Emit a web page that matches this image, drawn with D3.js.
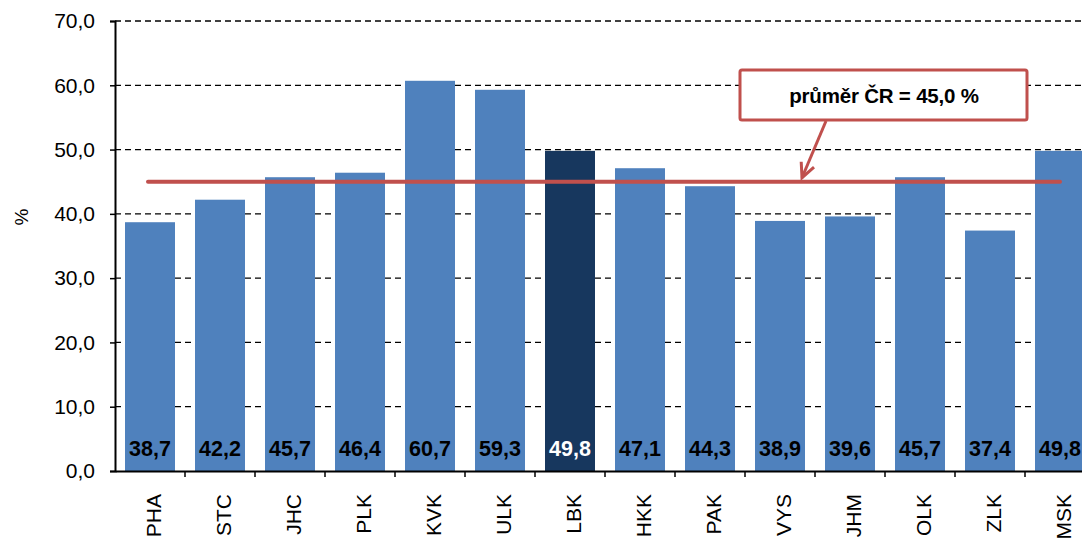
<!DOCTYPE html>
<html><head><meta charset="utf-8">
<script src="https://cdn.jsdelivr.net/npm/d3@7"></script>
<style>body{margin:0;background:#fff}svg{display:block}text{font-family:"Liberation Sans",Arial,sans-serif}</style>
</head><body><svg id="c" width="1082" height="538"></svg>
<script>
const categories = ["PHA","STC","JHC","PLK","KVK","ULK","LBK","HKK","PAK","VYS","JHM","OLK","ZLK","MSK"];
const values = [38.7,42.2,45.7,46.4,60.7,59.3,49.8,47.1,44.3,38.9,39.6,45.7,37.4,49.8];
const highlight = ["LBK"];
const average = 45.0;
const avgLabel = "průměr ČR = 45,0 %";
const yTicks = [0,10,20,30,40,50,60,70];
const yTitle = "%";

(function(){
const svg = d3.select("#c");
const pLeft = 115, pTop = 21, pBottom = 471, step = 70;
const x = d3.scaleBand().domain(categories).range([pLeft, pLeft + step*categories.length]).paddingInner(20/70).paddingOuter(10/70);
const xb = d3.scaleBand().domain(categories).range([pLeft, pLeft + step*categories.length]);
const y = d3.scaleLinear().domain([0,70]).range([pBottom, pTop]);
const fmt = v => d3.format(".1f")(v).replace(".", ",");

// grid
svg.append("g").selectAll("line").data(yTicks.filter(d=>d>0)).join("line")
  .attr("x1", pLeft).attr("x2", 1082).attr("y1", d=>y(d)).attr("y2", d=>y(d))
  .attr("stroke","#000").attr("stroke-width",1.3).attr("stroke-dasharray","6,4");

// bars
svg.append("g").selectAll("rect").data(categories).join("rect")
  .attr("x", d=>x(d)).attr("width", x.bandwidth())
  .attr("y", (d,i)=>y(values[i])).attr("height", (d,i)=>pBottom - y(values[i]))
  .attr("fill", d=>highlight.includes(d) ? "#17375E" : "#4F81BD");

// value labels
svg.append("g").selectAll("text").data(categories).join("text")
  .attr("x", d=>x(d)+x.bandwidth()/2).attr("y", 456)
  .attr("text-anchor","middle").attr("font-size",21.5).attr("font-weight","bold")
  .attr("fill", d=>highlight.includes(d) ? "#fff" : "#000")
  .text((d,i)=>fmt(values[i]));

// y axis
const ya = svg.append("g").attr("transform",`translate(${pLeft},0)`)
  .call(d3.axisLeft(y).tickValues(yTicks).tickFormat(fmt).tickSize(5).tickPadding(15));
ya.select(".domain").attr("stroke","#000").attr("stroke-width",2);
ya.selectAll(".tick line").attr("stroke","#000").attr("stroke-width",1.5);
ya.selectAll("text").attr("font-size",21).attr("fill","#000").attr("font-family","Liberation Sans, Arial, sans-serif");

// x axis
const xa = svg.append("g").attr("transform",`translate(0,${pBottom})`)
  .call(d3.axisBottom(xb).tickSize(0).tickFormat(""));
xa.select(".domain").attr("stroke","#000").attr("stroke-width",2);
svg.append("g").selectAll("line").data(categories.slice(1)).join("line")
  .attr("x1", d=>xb(d)).attr("x2", d=>xb(d)).attr("y1", pBottom).attr("y2", pBottom+6)
  .attr("stroke","#000").attr("stroke-width",1.5);
svg.append("g").selectAll("text").data(categories).join("text")
  .attr("transform", d=>`translate(${xb(d)+xb.bandwidth()/2+11},${494}) rotate(-90)`)
  .attr("text-anchor","end").attr("font-size",21).attr("fill","#000").text(d=>d);

// y title
svg.append("text").attr("transform","translate(28,217) rotate(-90)").attr("text-anchor","middle")
  .attr("font-size",19).text(yTitle);

// average line
svg.append("line")
  .attr("x1", xb(categories[0])+xb.bandwidth()/2-2).attr("x2", xb(categories[categories.length-1])+xb.bandwidth()/2)
  .attr("y1", y(average)).attr("y2", y(average))
  .attr("stroke","#C0504D").attr("stroke-width",4).attr("stroke-linecap","round");

// callout
svg.append("rect").attr("x",740).attr("y",70).attr("width",287).attr("height",50).attr("rx",2)
  .attr("fill","#fff").attr("stroke","#C0504D").attr("stroke-width",3);
svg.append("text").attr("x",884).attr("y",103).attr("text-anchor","middle")
  .attr("font-size",20.5).attr("font-weight","bold").attr("letter-spacing",-0.2).text(avgLabel);
const ax1 = 826, ay1 = 121, ax2 = 802, ay2 = y(average) - 4;
svg.append("line").attr("x1",ax1).attr("y1",ay1).attr("x2",ax2).attr("y2",ay2)
  .attr("stroke","#C0504D").attr("stroke-width",3);
const ang = Math.atan2(ay2-ay1, ax2-ax1);
const hl = 16, ha = 0.45;
svg.append("path")
  .attr("d", `M${ax2-hl*Math.cos(ang-ha)},${ay2-hl*Math.sin(ang-ha)} L${ax2},${ay2} L${ax2-hl*Math.cos(ang+ha)},${ay2-hl*Math.sin(ang+ha)}`)
  .attr("fill","none").attr("stroke","#C0504D").attr("stroke-width",3).attr("stroke-linejoin","miter");
})();
</script></body></html>
